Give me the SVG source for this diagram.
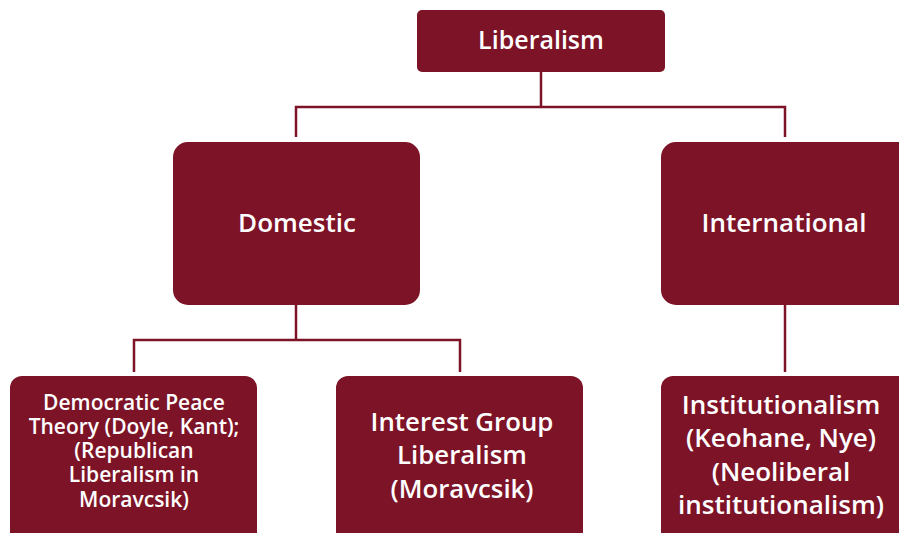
<svg xmlns="http://www.w3.org/2000/svg" width="899" height="533" viewBox="0 0 899 533">
<style>
.box{fill:#7D1327;}
.t{fill:#ffffff;font-family:"Open Sans","Liberation Sans",sans-serif;font-weight:600;text-anchor:middle;}
.c{stroke:#7D1327;stroke-width:2.5;fill:none;}
</style>
<rect width="899" height="533" fill="#ffffff"/>
<g id="connectors">
<path class="c" d="M541 72 V107 M296 137 V107 H785 V137"/>
<path class="c" d="M296 305 V340 M134 372 V340 H460 V372"/>
<path class="c" d="M785 305 V372"/>
</g>
<g id="liberalism">
<rect class="box" x="417" y="10" width="248" height="62" rx="5"/>
<text class="t" x="541" y="49" font-size="25">Liberalism</text>
</g>
<g id="domestic">
<rect class="box" x="173" y="142" width="247" height="163" rx="15"/>
<text class="t" x="297" y="232" font-size="26">Domestic</text>
</g>
<g id="international">
<rect class="box" x="661" y="142" width="260" height="163" rx="15"/>
<text class="t" x="784" y="232" font-size="26">International</text>
</g>
<g id="democratic">
<rect class="box" x="10" y="376" width="247" height="175" rx="12"/>
<text class="t" font-size="21"><tspan x="134" y="410">Democratic Peace</tspan><tspan x="134" y="434">Theory (Doyle, Kant);</tspan><tspan x="134" y="458">(Republican</tspan><tspan x="134" y="482">Liberalism in</tspan><tspan x="134" y="507">Moravcsik)</tspan></text>
</g>
<g id="interest">
<rect class="box" x="336" y="376" width="247" height="175" rx="12"/>
<text class="t" font-size="25.8"><tspan x="462" y="431">Interest Group</tspan><tspan x="462" y="464">Liberalism</tspan><tspan x="462" y="498">(Moravcsik)</tspan></text>
</g>
<g id="institutionalism">
<rect class="box" x="661" y="376" width="260" height="175" rx="12"/>
<text class="t" font-size="26"><tspan x="781" y="414">Institutionalism</tspan><tspan x="781" y="447">(Keohane, Nye)</tspan><tspan x="781" y="481">(Neoliberal</tspan><tspan x="781" y="514">institutionalism)</tspan></text>
</g>
</svg>
